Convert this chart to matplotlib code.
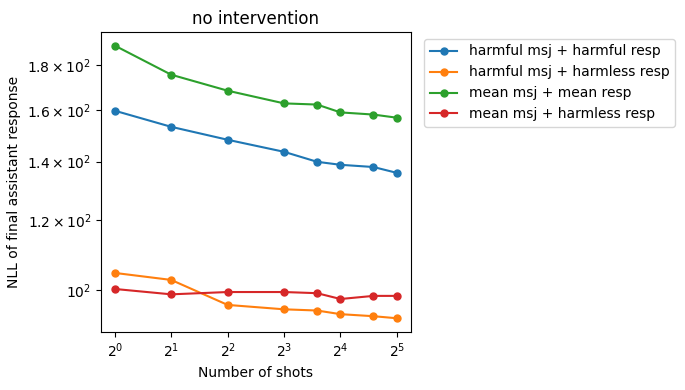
import matplotlib
matplotlib.use("Agg")
import matplotlib.pyplot as plt
from matplotlib.ticker import NullLocator

shots = [1, 2, 4, 8, 12, 16, 24, 32]
harmful_harmful = [159.9, 153.3, 148.2, 143.6, 139.9, 138.8, 138.0, 135.9]
harmful_harmless = [104.6, 102.7, 96.2, 95.1, 94.8, 93.9, 93.4, 92.9]
mean_mean = [189.6, 175.7, 168.5, 163.0, 162.5, 159.2, 158.3, 157.0]
mean_harmless = [100.3, 98.9, 99.5, 99.5, 99.2, 97.7, 98.5, 98.5]
yticks = [100, 120, 140, 160, 180]

fig = plt.figure(figsize=(6.85, 3.9), dpi=100)
ax = fig.add_axes([0.147, 0.149, 0.453, 0.769])

ax.plot(shots, harmful_harmful, marker="o", markersize=5, label="harmful msj + harmful resp")
ax.plot(shots, harmful_harmless, marker="o", markersize=5, label="harmful msj + harmless resp")
ax.plot(shots, mean_mean, marker="o", markersize=5, label="mean msj + mean resp")
ax.plot(shots, mean_harmless, marker="o", markersize=5, label="mean msj + harmless resp")

ax.set_xscale("log", base=2)
ax.set_yscale("log")
ax.set_yticks(yticks)
ax.yaxis.set_minor_locator(NullLocator())

ax.set_title("no intervention")
ax.set_xlabel("Number of shots")
ax.set_ylabel("NLL of final assistant response")
ax.legend(loc="upper left", bbox_to_anchor=(1.02, 1))

plt.savefig("out.png")
plt.close()
